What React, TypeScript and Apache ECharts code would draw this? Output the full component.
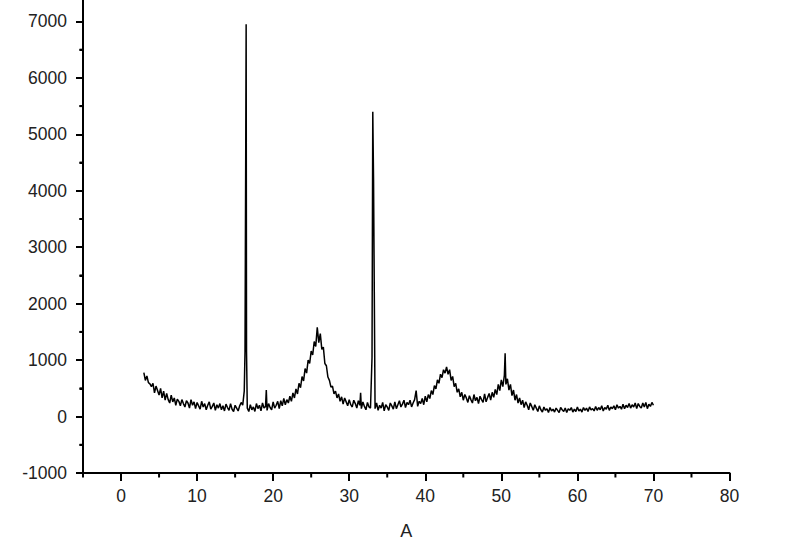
import React, { useEffect, useRef } from "react";
import * as echarts from "echarts";

// Diffraction scan, 2θ from 3.0° in 0.2° steps (5 values per degree per row)
const scanStart = 3.0;
const scanStep = 0.2;

const intensity3to20 = [
  780, 640, 720, 600, 580, // 3
  530, 590, 420, 540, 460, // 4
  380, 500, 330, 450, 290, // 5
  410, 300, 240, 380, 260, // 6
  330, 200, 310, 270, 190, // 7
  300, 230, 170, 280, 240, // 8
  150, 300, 200, 260, 140, // 9
  250, 190, 130, 270, 170, // 10
  230, 120, 200, 260, 130, // 11
  180, 240, 110, 210, 150, // 12
  230, 120, 190, 100, 220, // 13
  160, 110, 230, 130, 90, // 14
  200, 150, 100, 190, 250, // 15
  200, 450, 4850, 150, 90, // 16
  210, 120, 170, 90, 230, // 17
  140, 200, 100, 240, 150, // 18
  180, 110, 230, 160, 120, // 19
];

const intensity20to40 = [
  260, 150, 200, 270, 140, // 20
  280, 190, 320, 210, 300, // 21
  240, 360, 270, 420, 330, // 22
  490, 400, 590, 510, 710, // 23
  630, 850, 770, 1000, 940, // 24
  1160, 1090, 1330, 1240, 1580, // 25
  1310, 1470, 1190, 1230, 940, // 26
  900, 700, 640, 520, 540, // 27
  400, 450, 330, 400, 270, // 28
  350, 220, 330, 260, 190, // 29
  300, 210, 170, 290, 230, // 30
  150, 280, 200, 140, 260, // 31
  180, 120, 250, 170, 150, // 32
  1050, 4200, 140, 240, 110, // 33
  200, 150, 250, 100, 210, // 34
  170, 110, 240, 190, 130, // 35
  260, 140, 210, 280, 170, // 36
  220, 290, 160, 250, 210, // 37
  290, 170, 240, 300, 460, // 38
  180, 270, 230, 320, 210, // 39
];

const intensity40to55 = [
  360, 260, 390, 320, 460, // 40
  390, 550, 490, 650, 590, // 41
  750, 690, 830, 770, 880, // 42
  750, 830, 640, 710, 530, // 43
  590, 430, 490, 350, 430, // 44
  290, 390, 330, 250, 370, // 45
  300, 240, 390, 280, 340, // 46
  230, 360, 300, 250, 400, // 47
  260, 340, 410, 290, 430, // 48
  340, 480, 390, 570, 460, // 49
  650, 530, 730, 570, 670, // 50
  470, 570, 370, 470, 290, // 51
  390, 240, 330, 210, 290, // 52
  160, 260, 200, 120, 240, // 53
  180, 110, 210, 150, 90, // 54
];

const intensity55to70 = [
  190, 120, 80, 170, 110, // 55
  140, 70, 160, 100, 130, // 56
  80, 150, 110, 70, 160, // 57
  120, 90, 150, 70, 140, // 58
  110, 160, 80, 130, 90, // 59
  170, 100, 130, 80, 160, // 60
  110, 150, 90, 170, 120, // 61
  140, 100, 180, 110, 160, // 62
  120, 190, 100, 160, 130, // 63
  200, 110, 170, 140, 190, // 64
  120, 210, 150, 180, 130, // 65
  220, 140, 200, 160, 230, // 66
  150, 210, 170, 240, 140, // 67
  230, 180, 150, 240, 170, // 68
  250, 140, 220, 180, 250, // 69
  200, // 70
];

// Sharp reflections sampled between grid steps [2θ, intensity]
const sharpPeaks: [number, number][] = [
  [16.3, 1150],
  [16.45, 6950],
  [16.5, 1150],
  [19.1, 470],
  [31.5, 420],
  [33.1, 5400],
  [50.5, 1120],
];

const xLabelValues = [0, 10, 20, 30, 40, 50, 60, 70, 80];
const xMinorValues = [-5, 5, 15, 25, 35, 45, 55, 65, 75];
const yLabelValues = [-1000, 0, 1000, 2000, 3000, 4000, 5000, 6000, 7000];
const yMinorValues = [-500, 500, 1500, 2500, 3500, 4500, 5500, 6500];

const X_MIN = -5;
const X_MAX = 80;
const Y_MIN = -1000;
const Y_MAX = 7380;

export default function App() {
  const ref = useRef<HTMLDivElement>(null);

  useEffect(() => {
    if (!ref.current) return;
    const chart = echarts.init(ref.current, null, { renderer: "svg" });

    const scan = [
      ...intensity3to20,
      ...intensity20to40,
      ...intensity40to55,
      ...intensity55to70,
    ];
    const points: [number, number][] = scan.map((v, i) => [
      Math.round((scanStart + i * scanStep) * 100) / 100,
      v,
    ]);
    sharpPeaks.forEach((p) => points.push(p));
    points.sort((a, b) => a[0] - b[0]);

    const font = "'Liberation Sans', Arial, sans-serif";
    const textColor = "#222";

    // short minor ticks, placed through the axes' own scales
    const tickSeries = (axis: "x" | "y", values: number[], len: number) => ({
      type: "custom",
      coordinateSystem: "cartesian2d",
      silent: true,
      clip: false,
      z: 10,
      encode: { x: 0, y: 1 },
      data: values.map((v) => (axis === "x" ? [v, Y_MIN] : [X_MIN, v])),
      renderItem: (_params: any, api: any) => {
        const p = api.coord([api.value(0), api.value(1)]);
        const shape =
          axis === "x"
            ? { x1: p[0], y1: p[1], x2: p[0], y2: p[1] + len }
            : { x1: p[0], y1: p[1], x2: p[0] - len, y2: p[1] };
        return {
          type: "line",
          shape,
          style: { stroke: "#000", lineWidth: 2, fill: null },
        };
      },
    });

    chart.setOption({
      animation: false,
      backgroundColor: "#fff",
      grid: { left: 83, right: 70.5, top: 0, bottom: 79, containLabel: false },
      xAxis: {
        type: "value",
        min: X_MIN,
        max: X_MAX,
        interval: 10,
        splitLine: { show: false },
        name: "A",
        nameLocation: "middle",
        nameGap: 49,
        nameTextStyle: { fontFamily: font, fontSize: 18, color: textColor },
        axisLine: { show: true, onZero: false, lineStyle: { color: "#000", width: 2 } },
        axisTick: {
          show: true,
          inside: false,
          length: 8,
          customValues: xLabelValues,
          lineStyle: { color: "#000", width: 2 },
        },
        minorTick: {
          show: true,
          splitNumber: 2,
          length: 4.5,
          lineStyle: { color: "#000", width: 2 },
        },
        axisLabel: {
          customValues: xLabelValues,
          formatter: (v: number) => String(v),
          margin: 14,
          fontFamily: font,
          fontSize: 17.5,
          color: textColor,
        },
      },
      yAxis: {
        type: "value",
        min: Y_MIN,
        max: Y_MAX,
        interval: 1000,
        splitLine: { show: false },
        axisLine: { show: true, onZero: false, lineStyle: { color: "#000", width: 2 } },
        axisTick: {
          show: true,
          inside: false,
          length: 7,
          customValues: yLabelValues,
          lineStyle: { color: "#000", width: 2 },
        },
        minorTick: {
          show: true,
          splitNumber: 2,
          length: 3.5,
          lineStyle: { color: "#000", width: 2 },
        },
        axisLabel: {
          customValues: yLabelValues,
          formatter: (v: number) => String(v),
          margin: 16,
          fontFamily: font,
          fontSize: 17.5,
          color: textColor,
        },
      },
      series: [
        {
          type: "line",
          data: points,
          showSymbol: false,
          symbol: "none",
          lineStyle: { color: "#000", width: 1.5 },
          silent: true,
        },
        tickSeries("x", xMinorValues, 4.5),
        tickSeries("y", yMinorValues, 3.5),
      ],
    });

    return () => chart.dispose();
  }, []);

  return (
    <div
      ref={ref}
      style={{ position: "fixed", left: 0, top: 0, width: 800, height: 552 }}
    />
  );
}
